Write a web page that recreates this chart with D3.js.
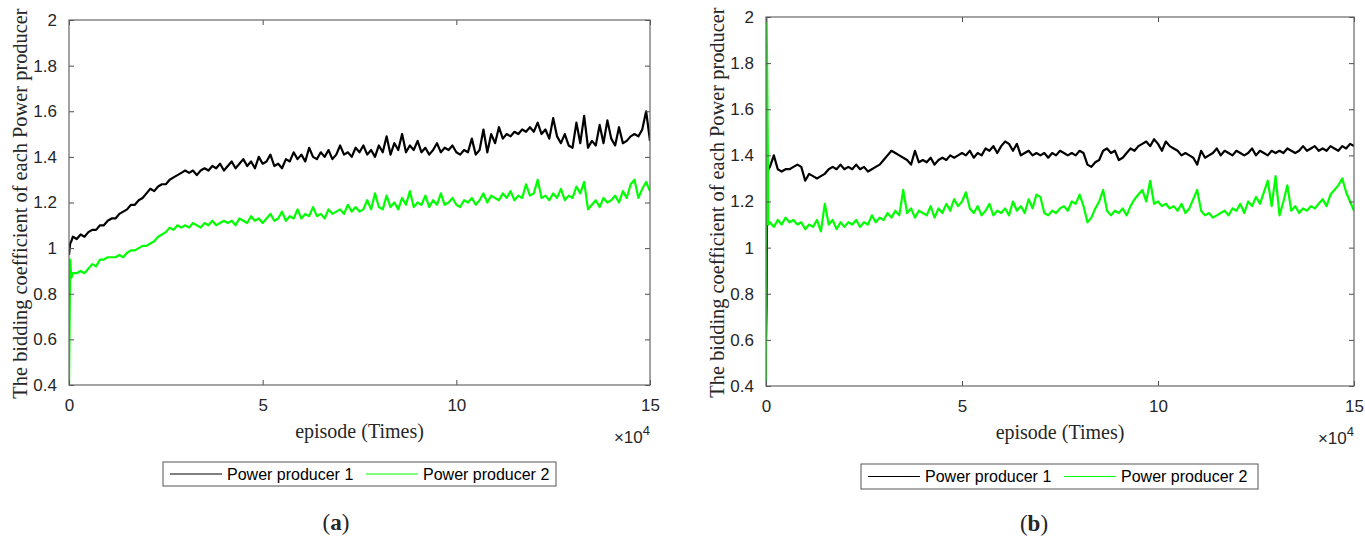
<!DOCTYPE html>
<html>
<head>
<meta charset="utf-8">
<script src="https://cdn.jsdelivr.net/npm/d3@7"></script>
<style>
  body { margin: 0; background: #fff; }
  .tick text { font-family: "Liberation Sans", Arial, sans-serif; font-size: 17px; fill: #262626; }
  .serif { font-family: "Liberation Serif", "Times New Roman", serif; fill: #262626; }
  .leg { font-family: "Liberation Sans", Arial, sans-serif; font-size: 16px; fill: #000; }
</style>
</head>
<body>
<div id="chart"></div>
<script>
// episodes sampled every 1000 (x axis shown in units of 10^4)
var episodes = d3.range(0, 150001, 1000);

// short start-up transients near episode 0
var startEpisodesA = [0, 300, 600],
    startA1 = [0.97, 1.02, 1.03],
    startA2 = [0.40, 0.95, 0.87];
var startEpisodesB = [0, 150, 300, 600],
    startB1 = [0.60, 0.75, 1.30, 1.34],
    startB2 = [0.40, 2.00, 1.75, 1.10];

// panel (a) — Power producer 1
var a1 = [
  1.03,1.05,1.04,1.06,1.05,1.07,1.08,1.08,1.10,1.10,
  1.12,1.13,1.13,1.15,1.16,1.17,1.19,1.19,1.21,1.22,
  1.24,1.26,1.25,1.27,1.28,1.28,1.30,1.31,1.32,1.33,
  1.34,1.33,1.34,1.32,1.34,1.35,1.34,1.36,1.35,1.37,
  1.34,1.36,1.38,1.35,1.37,1.39,1.36,1.38,1.35,1.40,
  1.37,1.38,1.41,1.36,1.37,1.35,1.39,1.38,1.42,1.39,
  1.41,1.38,1.44,1.40,1.39,1.42,1.40,1.43,1.39,1.41,
  1.45,1.41,1.42,1.40,1.44,1.42,1.45,1.41,1.43,1.40,
  1.45,1.42,1.49,1.41,1.46,1.43,1.50,1.42,1.45,1.43,
  1.47,1.42,1.44,1.41,1.43,1.46,1.42,1.44,1.43,1.45,
  1.42,1.41,1.43,1.42,1.48,1.41,1.43,1.52,1.42,1.50,
  1.46,1.53,1.48,1.50,1.49,1.51,1.50,1.52,1.51,1.53,
  1.51,1.55,1.50,1.52,1.48,1.57,1.49,1.46,1.50,1.45,
  1.44,1.55,1.46,1.58,1.44,1.47,1.45,1.54,1.46,1.56,
  1.48,1.45,1.53,1.46,1.47,1.49,1.50,1.49,1.52,1.60,
  1.47];

// panel (a) — Power producer 2
var a2 = [
  0.88,0.89,0.89,0.90,0.89,0.91,0.93,0.92,0.95,0.95,
  0.96,0.96,0.96,0.97,0.96,0.98,0.99,0.99,1.00,1.01,
  1.01,1.02,1.03,1.05,1.06,1.07,1.09,1.08,1.10,1.09,
  1.10,1.09,1.11,1.10,1.09,1.11,1.10,1.12,1.10,1.11,
  1.12,1.11,1.12,1.10,1.13,1.12,1.11,1.14,1.12,1.13,
  1.11,1.13,1.15,1.12,1.13,1.16,1.12,1.14,1.13,1.17,
  1.13,1.15,1.14,1.18,1.14,1.15,1.13,1.17,1.15,1.16,
  1.17,1.15,1.19,1.16,1.18,1.16,1.17,1.21,1.17,1.24,
  1.18,1.17,1.23,1.18,1.20,1.17,1.22,1.19,1.25,1.18,
  1.20,1.19,1.23,1.18,1.21,1.19,1.24,1.19,1.20,1.22,
  1.19,1.18,1.21,1.20,1.22,1.19,1.21,1.24,1.20,1.23,
  1.22,1.21,1.24,1.22,1.25,1.21,1.23,1.22,1.28,1.23,
  1.24,1.30,1.22,1.23,1.21,1.24,1.22,1.26,1.21,1.23,
  1.22,1.27,1.24,1.29,1.17,1.19,1.21,1.18,1.22,1.20,
  1.21,1.23,1.20,1.25,1.22,1.28,1.30,1.22,1.26,1.29,
  1.25];

// panel (b) — Power producer 1
var b1 = [
  1.34,1.35,1.40,1.34,1.33,1.34,1.34,1.35,1.36,1.35,
  1.29,1.32,1.31,1.30,1.31,1.32,1.34,1.35,1.34,1.36,
  1.34,1.35,1.34,1.36,1.34,1.35,1.33,1.34,1.35,1.36,
  1.38,1.40,1.42,1.41,1.40,1.39,1.38,1.36,1.42,1.37,
  1.38,1.37,1.39,1.36,1.38,1.39,1.38,1.40,1.39,1.40,
  1.41,1.40,1.42,1.39,1.41,1.40,1.43,1.42,1.44,1.41,
  1.44,1.46,1.45,1.42,1.45,1.40,1.41,1.42,1.40,1.41,
  1.40,1.41,1.39,1.41,1.40,1.42,1.41,1.40,1.41,1.40,
  1.42,1.41,1.36,1.35,1.37,1.38,1.42,1.43,1.41,1.42,
  1.38,1.39,1.41,1.43,1.42,1.44,1.45,1.46,1.44,1.47,
  1.45,1.42,1.46,1.44,1.43,1.42,1.40,1.41,1.40,1.39,
  1.36,1.42,1.39,1.40,1.41,1.43,1.40,1.42,1.41,1.40,
  1.42,1.41,1.40,1.41,1.43,1.40,1.42,1.41,1.40,1.42,
  1.41,1.42,1.41,1.43,1.42,1.41,1.42,1.44,1.42,1.43,
  1.44,1.42,1.43,1.42,1.44,1.43,1.42,1.44,1.43,1.45,
  1.44];

// panel (b) — Power producer 2
var b2 = [
  1.10,1.11,1.09,1.12,1.10,1.13,1.11,1.12,1.10,1.11,
  1.08,1.10,1.09,1.12,1.07,1.19,1.10,1.12,1.08,1.11,
  1.09,1.11,1.10,1.12,1.09,1.11,1.10,1.14,1.11,1.13,
  1.12,1.15,1.13,1.16,1.14,1.25,1.15,1.17,1.13,1.16,
  1.15,1.14,1.18,1.13,1.17,1.15,1.19,1.16,1.21,1.18,
  1.20,1.24,1.17,1.15,1.18,1.14,1.16,1.19,1.14,1.16,
  1.15,1.17,1.14,1.20,1.16,1.18,1.15,1.21,1.17,1.23,
  1.22,1.15,1.14,1.16,1.15,1.17,1.18,1.16,1.20,1.19,
  1.23,1.18,1.11,1.13,1.17,1.20,1.25,1.16,1.14,1.16,
  1.15,1.17,1.14,1.18,1.21,1.23,1.25,1.20,1.29,1.19,
  1.20,1.18,1.19,1.17,1.18,1.16,1.19,1.15,1.17,1.21,
  1.25,1.16,1.14,1.15,1.13,1.14,1.15,1.16,1.14,1.17,
  1.16,1.19,1.15,1.20,1.18,1.22,1.19,1.24,1.29,1.18,
  1.31,1.14,1.20,1.27,1.16,1.18,1.15,1.17,1.16,1.18,
  1.17,1.19,1.21,1.18,1.23,1.25,1.27,1.30,1.24,1.20,
  1.16];

var xTicks = [0, 50000, 100000, 150000],
    yTicks = [0.4, 0.6, 0.8, 1, 1.2, 1.4, 1.6, 1.8, 2];
var seriesNames = ["Power producer 1", "Power producer 2"],
    seriesColors = ["#000000", "#00ff00"];

var W = 1365, H = 538;
var svg = d3.select("#chart").append("svg")
    .attr("width", W)
    .attr("height", H);

function joinSeries(startEps, startVals, vals) {
    var pts = startEps.map(function(e, i) { return [e, startVals[i]]; });
    episodes.forEach(function(e, i) { if (e > startEps[startEps.length - 1]) pts.push([e, vals[i]]); });
    return pts;
}

function drawPanel(p) {
    var x = d3.scaleLinear().domain([0, 150000]).range([p.left, p.right]);
    var y = d3.scaleLinear().domain([0.4, 2]).range([p.bottom, p.top]);
    var g = svg.append("g");

    g.append("clipPath").attr("id", "clip" + p.id)
      .append("rect")
        .attr("x", p.left).attr("y", p.top)
        .attr("width", p.right - p.left).attr("height", p.bottom - p.top);

    var line = d3.line()
        .x(function(d) { return x(d[0]); })
        .y(function(d) { return y(d[1]); });

    var lines = g.append("g").attr("clip-path", "url(#clip" + p.id + ")");
    p.series.forEach(function(s, i) {
        lines.append("path")
            .attr("d", line(s))
            .attr("fill", "none")
            .attr("stroke", seriesColors[i])
            .attr("stroke-width", 2.2)
            .attr("stroke-linejoin", "round");
    });

    // axes with inward ticks on all four sides (MATLAB box style)
    var fmtX = function(d) { return d / 10000; };
    g.append("g").attr("transform", "translate(0," + p.bottom + ")")
        .call(d3.axisBottom(x).tickValues(xTicks).tickFormat(fmtX).tickSizeInner(-5).tickSizeOuter(0).tickPadding(14));
    g.append("g").attr("transform", "translate(0," + p.top + ")")
        .call(d3.axisTop(x).tickValues(xTicks).tickFormat("").tickSizeInner(-5).tickSizeOuter(0));
    g.append("g").attr("transform", "translate(" + p.left + ",0)")
        .call(d3.axisLeft(y).tickValues(yTicks).tickFormat(d3.format("~g")).tickSizeInner(-5).tickSizeOuter(0).tickPadding(12));
    g.append("g").attr("transform", "translate(" + p.right + ",0)")
        .call(d3.axisRight(y).tickValues(yTicks).tickFormat("").tickSizeInner(-5).tickSizeOuter(0));
    g.selectAll(".domain").remove();
    g.selectAll(".tick line").attr("stroke", "#4d4d4d");

    g.append("rect")
        .attr("x", p.left).attr("y", p.top)
        .attr("width", p.right - p.left).attr("height", p.bottom - p.top)
        .attr("fill", "none").attr("stroke", "#666").attr("stroke-width", 1.2);

    // ×10^4 multiplier
    var mult = g.append("text")
        .attr("x", p.right).attr("y", p.bottom + 58)
        .attr("text-anchor", "end")
        .style("font-family", "Liberation Sans, Arial, sans-serif")
        .style("font-size", "17px").style("fill", "#262626");
    mult.append("tspan").text("\u00d710");
    mult.append("tspan").attr("dy", -8).style("font-size", "13px").text("4");

    var cx = (p.left + p.right) / 2;
    g.append("text").attr("class", "serif")
        .attr("x", cx).attr("y", p.bottom + 53)
        .attr("text-anchor", "middle").style("font-size", "20px")
        .text("episode (Times)");

    g.append("text").attr("class", "serif")
        .attr("transform", "translate(" + p.ylabX + "," + ((p.top + p.bottom) / 2 + 1) + ")rotate(-90)")
        .attr("text-anchor", "middle").attr("dy", "0.35em").style("font-size", "20.4px")
        .text("The bidding coefficient of each Power producer");

    // legend below the axes
    var lg = g.append("g");
    lg.append("rect")
        .attr("x", p.leg[0]).attr("y", p.leg[1])
        .attr("width", p.leg[2]).attr("height", p.leg[3])
        .attr("fill", "#fff").attr("stroke", "#555").attr("stroke-width", 1);
    var ly = p.leg[1] + p.leg[3] / 2;
    var itemX = [p.leg[0] + 7, p.leg[0] + 203];
    seriesNames.forEach(function(name, i) {
        lg.append("line")
            .attr("x1", itemX[i]).attr("x2", itemX[i] + 52)
            .attr("y1", ly).attr("y2", ly)
            .attr("stroke", seriesColors[i]).attr("stroke-width", 1);
        lg.append("text").attr("class", "leg")
            .attr("x", itemX[i] + 57).attr("y", ly).attr("dy", "0.36em")
            .text(name);
    });

    g.append("text").attr("class", "serif")
        .attr("x", p.tag[0]).attr("y", p.tag[1])
        .attr("text-anchor", "middle")
        .style("font-size", "23px")
        .html("(<tspan font-weight='bold'>" + p.id + "</tspan>)");
}

drawPanel({
    id: "a", left: 69, right: 650, top: 20, bottom: 385, ylabX: 20,
    leg: [163, 462, 393, 24], tag: [336, 530],
    series: [joinSeries(startEpisodesA, startA1, a1), joinSeries(startEpisodesA, startA2, a2)]
});
drawPanel({
    id: "b", left: 766, right: 1354, top: 17, bottom: 386, ylabX: 717,
    leg: [861, 464, 397, 25], tag: [1034, 531],
    series: [joinSeries(startEpisodesB, startB1, b1), joinSeries(startEpisodesB, startB2, b2)]
});
</script>
</body>
</html>
